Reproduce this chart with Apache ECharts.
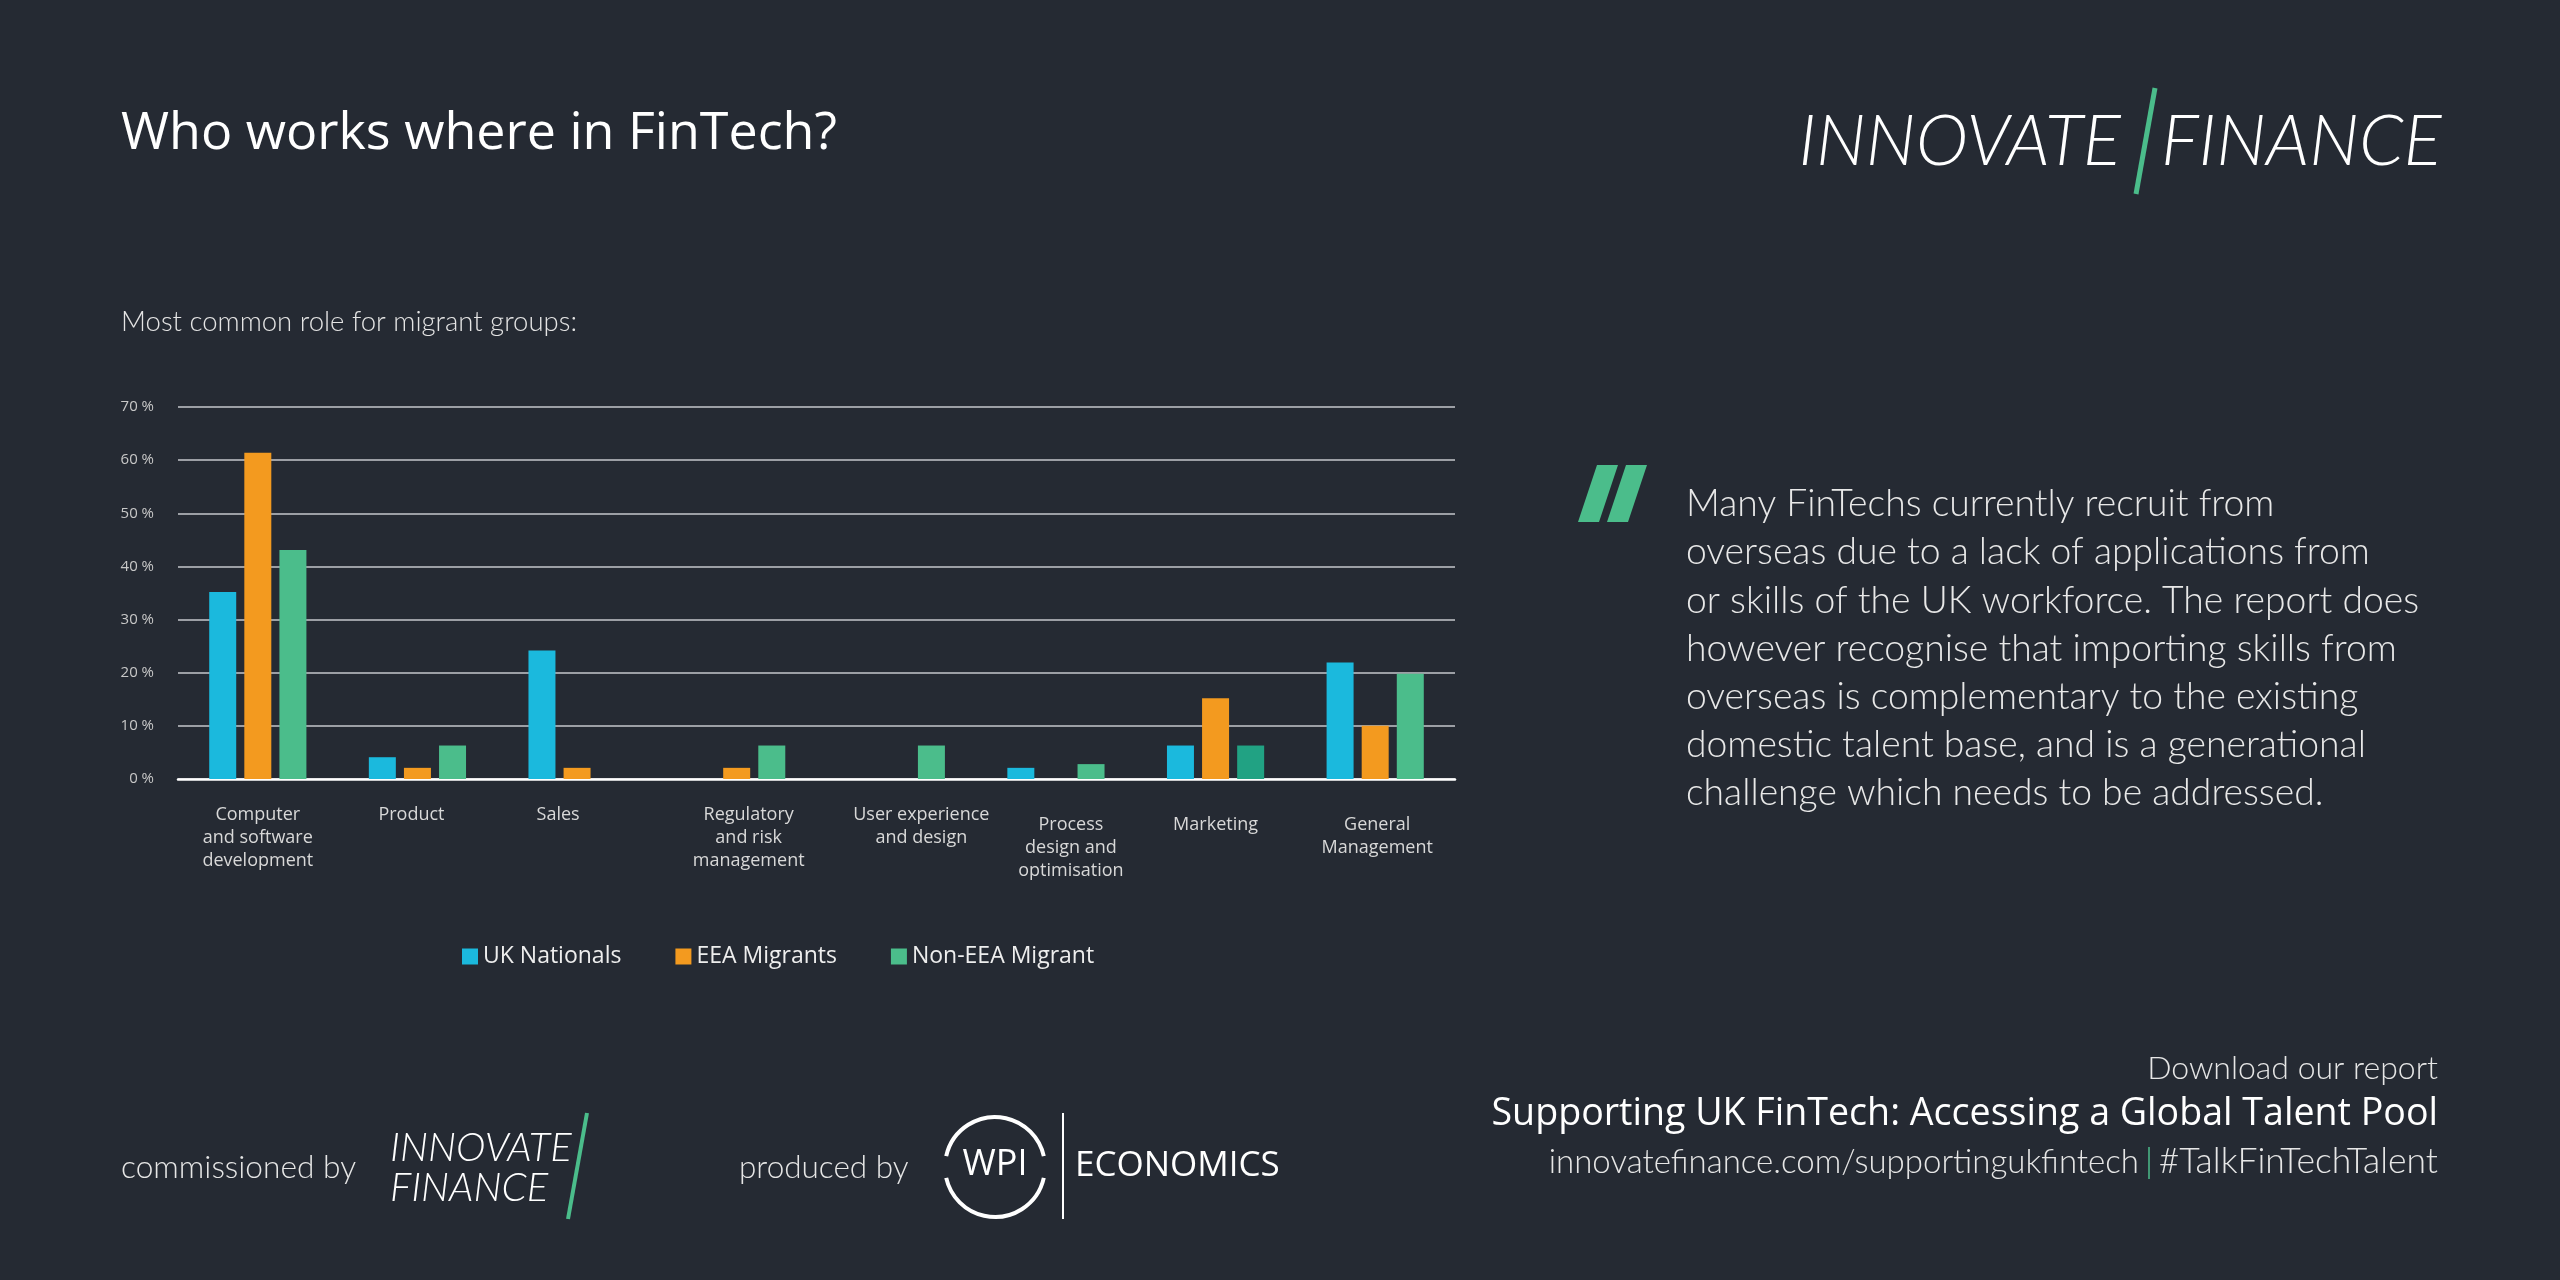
<!DOCTYPE html>
<html lang="en">
<head>
    <meta charset="UTF-8">
    <title>Who works where in FinTech?</title>
    <script src="https://cdn.jsdelivr.net/npm/echarts@6/dist/echarts.min.js"></script>
    <style>
        body { margin: 0; padding: 0; background-color: #252a33; }
        #chart { width: 2560px; height: 1280px; }
    </style>
</head>
<body>

<div id="chart"></div>

<script>
// data
const roles = [
    'Computer\nand software\ndevelopment',
    'Product',
    'Sales',
    'Regulatory\nand risk\nmanagement',
    'User experience\nand design',
    'Process\ndesign and\noptimisation',
    'Marketing',
    'General\nManagement'
];
const ukNationals = [35.2, 4.1, 24.2, null, null, 2.1, 6.3, 21.9];
const eeaMigrants = [61.4, 2.1, 2.1, 2.1, null, null, 15.2, 10.0];
const nonEeaMigrants = [43.1, 6.3, null, 6.3, 6.3, 2.8, 6.3, 19.8];
const seriesNames = ['UK Nationals', 'EEA Migrants', 'Non-EEA Migrant'];

const quoteLines = [
    'Many FinTechs currently recruit from',
    'overseas due to a lack of applications from',
    'or skills of the UK workforce. The report does',
    'however recognise that importing skills from',
    'overseas is complementary to the existing',
    'domestic talent base, and is a generational',
    'challenge which needs to be addressed.'
];

const colors = ['#1bb9dd', '#f39a1f', '#4bbd8b'];
const FONT = "'Open Sans', sans-serif";
const THIN = "Lato, 'Open Sans', sans-serif";

const chart = echarts.init(document.getElementById('chart'));

// label nudges (px) so the category labels sit like the original layout
const labelDx = [0, -6, -19, 12, 25, 15, 0, 2];
const labelDy = [0, 0, 0, 0, 0, 10, 10, 10];

function labelItem(r, i) {
    const dx = labelDx[i], dy = labelDy[i];
    if (!dx && !dy) return r;
    return { value: r, textStyle: { padding: [dy, dx < 0 ? -2 * dx : 0, 0, dx > 0 ? 2 * dx : 0] } };
}

function txt(x, y, text, o) {
    return {
        type: 'text', x: x, y: y, silent: true,
        style: Object.assign({
            text: text, fill: '#ffffff', fontFamily: THIN, fontSize: 30,
            align: 'left', textAlign: 'left',
            verticalAlign: 'middle', textVerticalAlign: 'middle'
        }, o || {})
    };
}

function bar(name, values, i) {
    return {
        name: name,
        type: 'bar',
        barWidth: 27,
        barGap: '30%',
        itemStyle: { color: colors[i] },
        data: values.map((v, k) => (i === 2 && roles[k] === 'Marketing')
            ? { value: v, itemStyle: { color: '#21a283' } } : v)
    };
}

const graphics = [
    // header
    txt(121, 134, 'Who works where in FinTech?', { fontSize: 52, fontFamily: FONT }),
    txt(121, 322, 'Most common role for migrant groups:', { fontSize: 27.5, fontWeight: 300, fill: '#e4e4e4' }),
    // top right logo
    txt(2121, 142, 'INNOVATE', { fontSize: 71, fontStyle: 'italic', fontWeight: 300, align: 'right', textAlign: 'right' }),
    txt(2161, 142, 'FINANCE', { fontSize: 71, fontStyle: 'italic', fontWeight: 300 }),
    { type: 'line', silent: true, shape: { x1: 2155, y1: 88, x2: 2136, y2: 194 },
      style: { stroke: '#4bbd8b', lineWidth: 5 } },
    // quote marks
    { type: 'polygon', silent: true,
      shape: { points: [[1597, 465], [1618, 465], [1599, 522], [1578, 522]] },
      style: { fill: '#4bbd8b' } },
    { type: 'polygon', silent: true,
      shape: { points: [[1626, 465], [1647, 465], [1628, 522], [1607, 522]] },
      style: { fill: '#4bbd8b' } },
    txt(1686, 480, quoteLines.join('\n'), {
        fontSize: 37.3, fontWeight: 300, fill: '#e8e8e8', lineHeight: 48.2,
        verticalAlign: 'top', textVerticalAlign: 'top'
    }),
    // bottom right
    txt(2438, 1069, 'Download our report', { fontSize: 32, fontWeight: 300, fill: '#e6e6e6', align: 'right', textAlign: 'right' }),
    txt(2438, 1114, 'Supporting UK FinTech: Accessing a Global Talent Pool', { fontSize: 37.6, fontFamily: FONT, align: 'right', textAlign: 'right' }),
    txt(2438, 1162, '#TalkFinTechTalent', { fontSize: 35.5, fontWeight: 300, fill: '#e6e6e6', align: 'right', textAlign: 'right' }),
    { type: 'line', silent: true, shape: { x1: 2149, y1: 1147, x2: 2149, y2: 1179 },
      style: { stroke: '#4bbd8b', lineWidth: 1.5 } },
    txt(2139, 1162, 'innovatefinance.com/supportingukfintech', { fontSize: 33, fontWeight: 300, fill: '#e6e6e6', align: 'right', textAlign: 'right' }),
    // bottom left
    txt(121, 1168, 'commissioned by', { fontSize: 31.7, fontWeight: 300, fill: '#e6e6e6' }),
    txt(390, 1148, 'INNOVATE', { fontSize: 40, fontStyle: 'italic', fontWeight: 300 }),
    txt(390, 1188, 'FINANCE', { fontSize: 40, fontStyle: 'italic', fontWeight: 300 }),
    { type: 'line', silent: true, shape: { x1: 587, y1: 1113, x2: 568, y2: 1219 },
      style: { stroke: '#4bbd8b', lineWidth: 4 } },
    txt(739, 1168, 'produced by', { fontSize: 31.5, fontWeight: 300, fill: '#e6e6e6' }),
    { type: 'arc', silent: true,
      shape: { cx: 995, cy: 1167, r: 50, startAngle: Math.PI * 0.07, endAngle: Math.PI * 0.93 },
      style: { stroke: '#ffffff', lineWidth: 4, fill: null } },
    { type: 'arc', silent: true,
      shape: { cx: 995, cy: 1167, r: 50, startAngle: Math.PI * 1.07, endAngle: Math.PI * 1.93 },
      style: { stroke: '#ffffff', lineWidth: 4, fill: null } },
    txt(995, 1165, 'WPI', { fontSize: 36, fontFamily: FONT, align: 'center', textAlign: 'center' }),
    { type: 'line', silent: true, shape: { x1: 1063, y1: 1113, x2: 1063, y2: 1219 },
      style: { stroke: '#ffffff', lineWidth: 2 } },
    txt(1075, 1166, 'ECONOMICS', { fontSize: 35, fontFamily: FONT })
];

const option = {
    backgroundColor: '#252a33',
    animation: false,
    textStyle: { fontFamily: FONT },
    grid: { left: 178, right: 1105, top: 407, bottom: 501, containLabel: false },
    legend: {
        left: 457, top: 940,
        icon: 'rect', itemWidth: 16, itemHeight: 16, itemGap: 54,
        textStyle: { color: '#eeeeee', fontSize: 23, fontFamily: FONT },
        data: seriesNames
    },
    xAxis: {
        type: 'category',
        data: roles.map(labelItem),
        axisLine: { lineStyle: { color: '#ffffff', width: 2.5 } },
        axisTick: { show: false },
        axisLabel: {
            interval: 0, margin: 24, color: '#d8d8d8',
            fontSize: 18, lineHeight: 23, fontFamily: FONT
        }
    },
    yAxis: {
        type: 'value',
        min: 0, max: 70, interval: 10,
        axisLine: { show: false },
        axisTick: { show: false },
        axisLabel: { formatter: '{value} %', color: '#c8c8c8', fontSize: 15, margin: 24 },
        splitLine: { lineStyle: { color: '#c4c7cc', width: 1.5 } }
    },
    graphic: graphics,
    series: [
        bar(seriesNames[0], ukNationals, 0),
        bar(seriesNames[1], eeaMigrants, 1),
        bar(seriesNames[2], nonEeaMigrants, 2)
    ]
};

chart.setOption(option);
</script>

</body>
</html>
